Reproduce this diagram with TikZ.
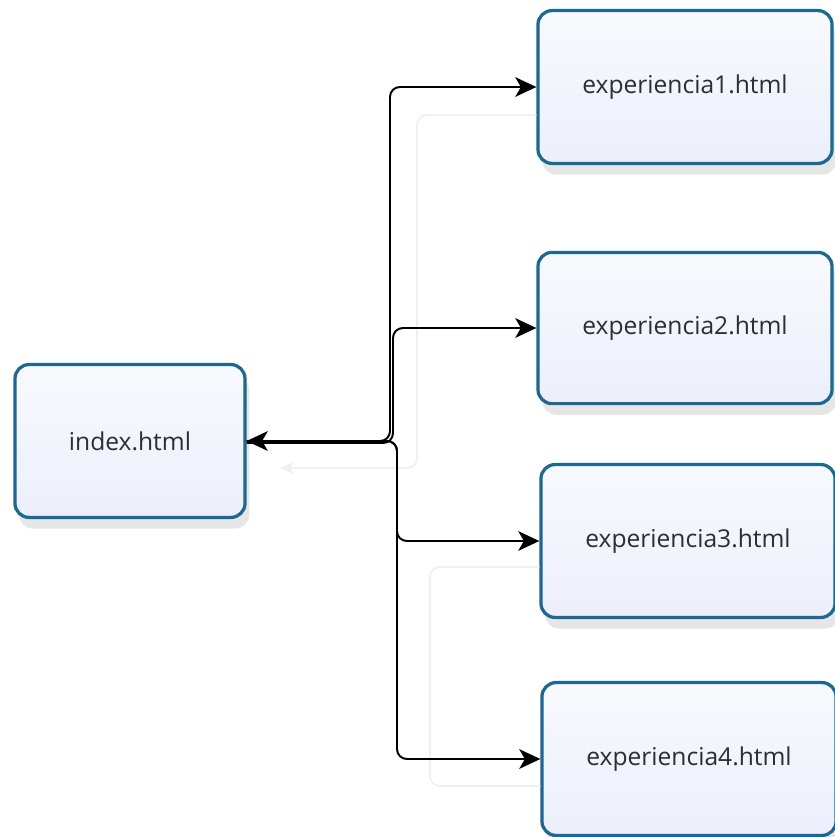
\documentclass[tikz,border=0pt]{standalone}
\usepackage{fontspec}
\setmainfont{Open Sans}
\usetikzlibrary{positioning, arrows.meta, calc, shadows}
\definecolor{pageframe}{RGB}{28, 104, 146}
\definecolor{pagefill}{RGB}{236, 239, 251}
\definecolor{pageink}{RGB}{45, 45, 50}
\definecolor{ghostline}{RGB}{240, 240, 240}

\tikzset{
    pagebox/.style={draw=pageframe, line width=2.3pt, rounded corners=10pt,
        top color=pagefill!35, bottom color=pagefill, text=pageink,
        font=\fontsize{17.5}{20}\selectfont, inner sep=0pt,
        drop shadow={opacity=0.2, shadow xshift=3pt, shadow yshift=-8pt}},
    link/.style={line width=1.4pt, rounded corners=7pt,
        -{Stealth[length=15pt, width=14pt, inset=4pt]}},
    ghost/.style={ghostline, line width=1.2pt, rounded corners=7pt},
}

\begin{document}
\begin{tikzpicture}[x=0.025cm, y=-0.025cm]
        \useasboundingbox (0,0) rectangle (835,837);

        % Pages
        \node[pagebox, minimum width=5.75cm, minimum height=3.82cm] (index) at (130,441) {index.html};
        \node[pagebox, minimum width=7.35cm, minimum height=3.82cm] (exp1) at (685,87) {experiencia1.html};
        \node[pagebox, minimum width=7.35cm, minimum height=3.78cm] (exp2) at (685,328) {experiencia2.html};
        \node[pagebox, minimum width=7.35cm, minimum height=3.82cm] (exp3) at (688,541) {experiencia3.html};
        \node[pagebox, minimum width=7.35cm, minimum height=3.82cm] (exp4) at (689,759) {experiencia4.html};

        % Faint return lines
        \coordinate (backA) at (417,115);
        \coordinate (backB) at (417,468);
        \coordinate (backC) at (280,468);
        \coordinate (backD) at (430,567);
        \draw[ghost, -{Stealth[length=10pt, width=9pt, inset=3pt]}]
            ($(exp1.west)+(0,28)$) -- (backA) -- (backB) -- (backC);
        \draw[ghost] ($(exp3.west)+(0,26)$) -- (backD) |- ($(exp4.west)+(0,27)$);

        % Trunk
        \coordinate (upA) at (390,441);
        \coordinate (upB) at (393,443);
        \coordinate (down) at (397,441);

        % Links
        \draw[link, {Stealth[length=15pt, width=14pt, inset=4pt]}-{Stealth[length=15pt, width=14pt, inset=4pt]}]
            (index.east) -- (upA) |- (exp1.west);
        \draw[link] ($(index.east)+(0,2)$) -- (upB) |- (exp2.west);
        \draw[link] (index.east) -- (down) |- (exp3.west);
        \draw[link] (index.east) -- (down) |- (exp4.west);

    \end{tikzpicture}
\end{document}
